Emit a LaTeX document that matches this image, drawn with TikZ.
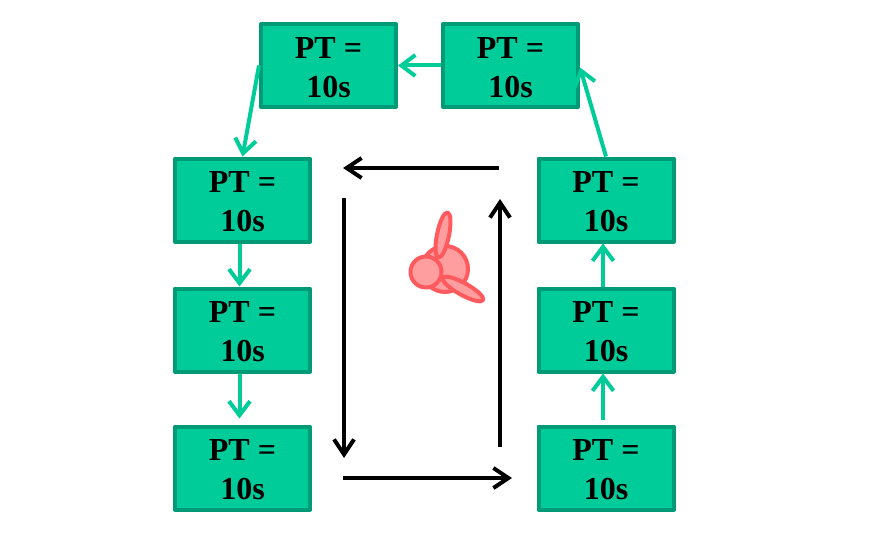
\documentclass[tikz,border=0pt]{standalone}
\usepackage{fontspec}
\setmainfont{Liberation Serif}
\usetikzlibrary{arrows.meta,shapes.geometric}
\definecolor{boxfill}{HTML}{00CC99}
\definecolor{boxline}{HTML}{009B76}
\definecolor{propline}{HTML}{FF5B5F}
\definecolor{propfill}{HTML}{FF9D9F}
\newcommand{\pttext}{\rule{0pt}{25pt}PT =\\10s}
\begin{document}
\begin{tikzpicture}[x=1pt,y=-1pt,
  ptbox/.style={draw=boxline,fill=boxfill,line width=4pt,line join=round,minimum width=135pt,minimum height=83pt,
    inner sep=0pt,align=center,font=\fontsize{32}{39}\selectfont\bfseries,text=black},
  greenarrow/.style={draw=boxfill,line width=4pt,-{Straight Barb[length=14pt,width=21pt,line width=4pt]}},
  blackarrow/.style={draw=black,line width=4pt,-{Straight Barb[length=15pt,width=20pt,line width=4pt]}},
  prop/.style={draw=propline,fill=propfill,line width=4pt,line join=round}]
\useasboundingbox (0,0) rectangle (875,535);
\node[ptbox] (tl) at (328.5,65.5) {\pttext};
\node[ptbox] (tr) at (510.5,65.5) {\pttext};
\node[ptbox] (l1) at (242.5,200) {\pttext};
\node[ptbox] (l2) at (242.5,330) {\pttext};
\node[ptbox] (l3) at (242.5,468) {\pttext};
\node[ptbox] (r1) at (606,200) {\pttext};
\node[ptbox] (r2) at (606,330) {\pttext};
\node[ptbox] (r3) at (606,468) {\pttext};
\draw[greenarrow] (tr.west) -- (tl.east);
\draw[greenarrow] (tl.west) -- (l1.north);
\draw[greenarrow] ([xshift=-3pt]l1.south) -- ([xshift=-3pt]l2.north);
\draw[greenarrow] ([xshift=-3pt]l2.south) -- ([xshift=-3pt,yshift=6pt]l3.north);
\draw[greenarrow] ([xshift=-3pt,yshift=5pt]r3.north) -- ([xshift=-3pt]r2.south);
\draw[greenarrow] ([xshift=-3pt]r2.north) -- ([xshift=-3pt]r1.south);
\draw[greenarrow] (r1.north) -- ([yshift=-2pt]tr.east);
\coordinate (a1) at (499,168);
\coordinate (a2) at (343,168);
\coordinate (b1) at (344,198);
\coordinate (b2) at (344,458);
\coordinate (c1) at (343,478);
\coordinate (c2) at (512,478);
\coordinate (d1) at (500,447);
\coordinate (d2) at (500,199);
\draw[blackarrow] (a1) -- (a2);
\draw[blackarrow] (b1) -- (b2);
\draw[blackarrow] (c1) -- (c2);
\draw[blackarrow] (d1) -- (d2);
\node[circle,prop,minimum size=46pt,inner sep=0pt] (hub) at (445,269) {};
\node[circle,prop,minimum size=31pt,inner sep=0pt] (cap) at (426,272) {};
\node[ellipse,prop,minimum width=12pt,minimum height=46pt,inner sep=0pt,rotate=-11.5] (blade1) at (443,235) {};
\node[ellipse,prop,minimum width=46pt,minimum height=12pt,inner sep=0pt,rotate=-29] (blade2) at (463,289) {};
\end{tikzpicture}
\end{document}
